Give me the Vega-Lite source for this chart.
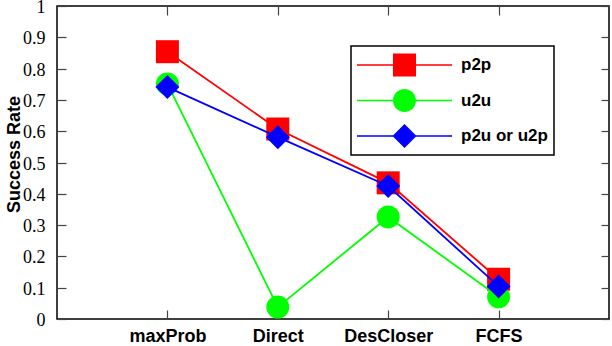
{
  "$schema": "https://vega.github.io/schema/vega-lite/v6.json",
  "width": 552,
  "height": 313,
  "autosize": {"type": "none"},
  "padding": {"left": 57, "top": 6, "right": 3, "bottom": 27},
  "background": "white",
  "config": {
    "view": {"stroke": "black", "strokeWidth": 1.5},
    "axis": {"grid": false, "domain": false}
  },
  "data": {
    "values": [
      {"method": "maxProb", "series": "p2p", "value": 0.854},
      {"method": "Direct", "series": "p2p", "value": 0.607},
      {"method": "DesCloser", "series": "p2p", "value": 0.435},
      {"method": "FCFS", "series": "p2p", "value": 0.127},
      {"method": "maxProb", "series": "u2u", "value": 0.751},
      {"method": "Direct", "series": "u2u", "value": 0.038},
      {"method": "DesCloser", "series": "u2u", "value": 0.326},
      {"method": "FCFS", "series": "u2u", "value": 0.071},
      {"method": "maxProb", "series": "p2u or u2p", "value": 0.741},
      {"method": "Direct", "series": "p2u or u2p", "value": 0.581},
      {"method": "DesCloser", "series": "p2u or u2p", "value": 0.425},
      {"method": "FCFS", "series": "p2u or u2p", "value": 0.104}
    ]
  },
  "encoding": {
    "x": {"field": "method", "type": "nominal", "sort": ["maxProb", "Direct", "DesCloser", "FCFS"], "scale": {"type": "point", "padding": 1}, "axis": null},
    "y": {"field": "value", "type": "quantitative", "scale": {"domain": [0, 1], "nice": false, "zero": false}, "axis": null},
    "color": {
      "field": "series",
      "type": "nominal",
      "scale": {"domain": ["p2p", "u2u", "p2u or u2p"], "range": ["#ff0000", "#00ff00", "#0000ff"]},
      "legend": {
        "orient": "none",
        "legendX": 294,
        "legendY": 40,
        "title": null,
        "symbolSize": 9025,
        "symbolStrokeWidth": 0,
        "symbolOffset": 0,
        "clipHeight": 26,
        "rowPadding": 9.5,
        "padding": 6,
        "labelOffset": 9,
        "labelFont": "Liberation Sans",
        "labelFontWeight": "bold",
        "labelFontSize": 17,
        "labelColor": "black",
        "strokeColor": "black",
        "fillColor": "white",
        "encode": {
          "legend": {"update": {"strokeWidth": {"value": 1.5}}},
          "symbols": {
            "update": {
              "shape": {"signal": "datum.value === 'p2p' ? 'M-1,-0.016H1V0.016H-1Z M-0.242,-0.242H0.242V0.242H-0.242Z' : datum.value === 'u2u' ? 'M-1,-0.016H1V0.016H-1Z M0.242,0A0.242,0.242 0 1,1 -0.242,0A0.242,0.242 0 1,1 0.242,0Z' : 'M-1,-0.016H1V0.016H-1Z M-0.253,0L0,-0.253L0.253,0L0,0.253Z'"},
              "fill": {"scale": "color", "field": "value"},
              "stroke": {"value": "transparent"},
              "strokeWidth": {"value": 0},
              "opacity": {"value": 1},
              "fillOpacity": {"value": 1}
            }
          }
        }
      }
    }
  },
  "layer": [
    {
      "transform": [{"filter": "datum.series === 'p2p'"}],
      "mark": {"type": "line", "strokeWidth": 1.8},
      "encoding": {
        "x": {"field": "method", "type": "nominal", "sort": ["maxProb", "Direct", "DesCloser", "FCFS"], "scale": {"type": "point", "padding": 1},
          "axis": {"orient": "bottom", "offset": -9, "title": null, "labelAngle": 0, "labelFont": "Liberation Sans", "labelFontWeight": "bold", "labelFontSize": 18, "labelColor": "black", "tickSize": 9, "tickColor": "#444", "tickWidth": 1.2, "labelPadding": 8, "domain": false}},
        "y": {"field": "value", "type": "quantitative", "scale": {"domain": [0, 1], "nice": false, "zero": false},
          "axis": {"orient": "left", "offset": -9, "values": [0, 0.1, 0.2, 0.3, 0.4, 0.5, 0.6, 0.7, 0.8, 0.9, 1], "format": ".1~f", "labelFont": "Liberation Serif", "labelFontSize": 18, "labelColor": "black", "labelOffset": 1.5, "tickSize": 9, "tickColor": "#444", "tickWidth": 1.2, "labelPadding": 12, "domain": false,
            "title": "Success Rate", "titleFont": "Liberation Sans", "titleFontSize": 18, "titleFontWeight": "bold", "titleColor": "black", "titleX": -52, "titleY": 148, "titleBaseline": "middle", "titleAngle": -90}}
      }
    },
    {
      "transform": [{"filter": "datum.series === 'p2p'"}],
      "mark": {"type": "point", "shape": "square", "size": 529, "filled": true, "opacity": 1},
      "encoding": {
        "x": {"field": "method", "type": "nominal", "sort": ["maxProb", "Direct", "DesCloser", "FCFS"], "scale": {"type": "point", "padding": 1},
          "axis": {"orient": "top", "offset": -9, "title": null, "labels": false, "tickSize": 9, "tickColor": "#444", "tickWidth": 1.2, "domain": false}},
        "y": {"field": "value", "type": "quantitative", "scale": {"domain": [0, 1], "nice": false, "zero": false},
          "axis": {"orient": "right", "offset": -8, "title": null, "labels": false, "values": [0, 0.1, 0.2, 0.3, 0.4, 0.5, 0.6, 0.7, 0.8, 0.9, 1], "tickSize": 8, "tickColor": "#444", "tickWidth": 1.2, "domain": false}}
      }
    },
    {
      "transform": [{"filter": "datum.series === 'u2u'"}],
      "mark": {"type": "line", "strokeWidth": 1.8}
    },
    {
      "transform": [{"filter": "datum.series === 'u2u'"}],
      "mark": {"type": "point", "shape": "circle", "size": 529, "filled": true, "opacity": 1}
    },
    {
      "transform": [{"filter": "datum.series === 'p2u or u2p'"}],
      "mark": {"type": "line", "strokeWidth": 1.8}
    },
    {
      "transform": [{"filter": "datum.series === 'p2u or u2p'"}],
      "mark": {"type": "point", "shape": "diamond", "size": 576, "filled": true, "opacity": 1}
    }
  ],
  "resolve": {"axis": {"x": "independent", "y": "independent"}}
}
